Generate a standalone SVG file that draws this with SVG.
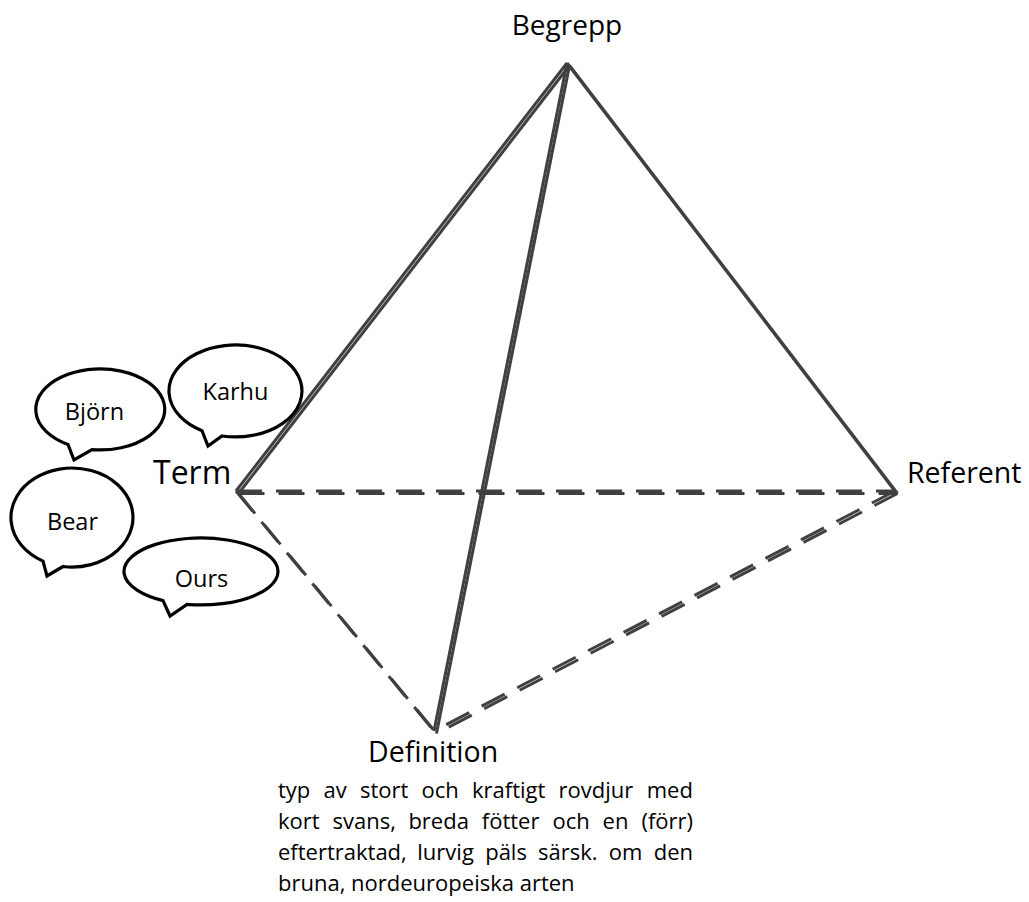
<svg xmlns="http://www.w3.org/2000/svg" xmlns:xlink="http://www.w3.org/1999/xlink" width="1029" height="902" viewBox="0 0 1029 902">
<style>
text{font-family:"Open Sans","Liberation Sans",sans-serif;fill:#000}
.lbl{font-size:28.5px}
.bt{font-size:23.5px;text-anchor:middle}
.para{font-size:22px}
.bub{fill:#fff;stroke:#000;stroke-width:3.2;stroke-linejoin:miter}
.edge{fill:none;stroke:#404040;stroke-width:3}
.dash{stroke-dasharray:26 14}
.shadow .edge{stroke:#e2e2e2;stroke-width:4}
</style>
<defs>
<g id="edges">
<line class="edge" x1="567" y1="63" x2="236" y2="491"/>
<line class="edge" x1="567" y1="63" x2="895" y2="491"/>
<line class="edge" x1="567" y1="63" x2="434" y2="731"/>
<line class="edge dash" x1="236" y1="491" x2="895" y2="491"/>
<line class="edge dash" x1="236" y1="491" x2="434" y2="731"/>
<line class="edge dash" x1="895" y1="491" x2="434" y2="731"/>
</g>
</defs>
<rect width="1029" height="902" fill="#fff"/>
<g id="connectors">
<g class="shadow" transform="translate(2.5,2.5)"><use xlink:href="#edges"/></g>
<use xlink:href="#edges"/>
</g>
<g id="begrepp"><text class="lbl" x="567" y="35" text-anchor="middle" style="font-size:28px">Begrepp</text></g>
<g id="term"><text x="153" y="484" style="font-size:32px">Term</text></g>
<g id="referent"><text class="lbl" x="907" y="483">Referent</text></g>
<g id="definition"><text class="lbl" x="368" y="762">Definition</text>
<text class="para">
<tspan x="278" y="798">typ</tspan><tspan x="323.5" y="798">av</tspan><tspan x="360" y="798">stort</tspan><tspan x="421.5" y="798">och</tspan><tspan x="472" y="798">kraftigt</tspan><tspan x="558.6" y="798">rovdjur</tspan><tspan x="646.7" y="798">med</tspan>
<tspan x="278" y="829">kort</tspan><tspan x="332.5" y="829">svans,</tspan><tspan x="408.4" y="829">breda</tspan><tspan x="481.8" y="829">fötter</tspan><tspan x="552.4" y="829">och</tspan><tspan x="602.6" y="829">en</tspan><tspan x="641.4" y="829">(förr)</tspan>
<tspan x="278" y="860">eftertraktad,</tspan><tspan x="417.3" y="860">lurvig</tspan><tspan x="485.2" y="860">päls</tspan><tspan x="538.1" y="860">särsk.</tspan><tspan x="608.8" y="860">om</tspan><tspan x="653.7" y="860">den</tspan>
<tspan x="278" y="891">bruna, nordeuropeiska arten</tspan>
</text></g>
<g id="bubble-bjorn"><path class="bub" d="M92,449.6 A64.5,40.5 0 1 0 68,444.5 L74,460 Z"/><text class="bt" x="94.5" y="420">Björn</text></g>
<g id="bubble-karhu"><path class="bub" d="M222,436 A66.5,46 0 1 0 202,430.7 L208,446 Z"/><text class="bt" x="235.5" y="400">Karhu</text></g>
<g id="bubble-bear"><path class="bub" d="M63,566.5 A61,49.5 0 1 0 43,561.1 L47,576 Z"/><text class="bt" x="72.5" y="530">Bear</text></g>
<g id="bubble-ours"><path class="bub" d="M187,604.4 A77,33.5 0 1 0 163,600.6 L170,616 Z"/><text class="bt" x="201.5" y="587">Ours</text></g>
</svg>
